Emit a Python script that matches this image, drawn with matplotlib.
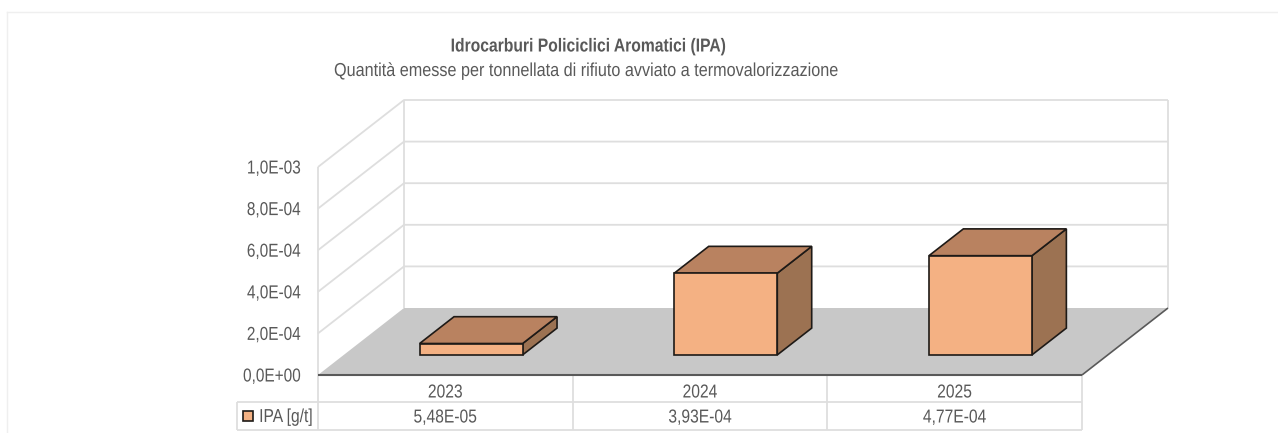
import matplotlib
matplotlib.use("Agg")
import matplotlib.pyplot as plt
from matplotlib.patches import Polygon
from matplotlib.lines import Line2D
from matplotlib.patheffects import AbstractPathEffect
from matplotlib.transforms import Affine2D

plt.rcParams["font.family"] = "Liberation Sans"

title = "Idrocarburi Policiclici Aromatici (IPA)"
subtitle = "Quantità emesse per tonnellata di rifiuto avviato a termovalorizzazione"
categories = ["2023", "2024", "2025"]
values = [5.48e-05, 3.93e-04, 4.77e-04]
value_labels = ["5,48E-05", "3,93E-04", "4,77E-04"]
y_ticks = [0, 2e-4, 4e-4, 6e-4, 8e-4, 1e-3]
y_tick_labels = ["0,0E+00", "2,0E-04", "4,0E-04", "6,0E-04", "8,0E-04", "1,0E-03"]
series_name = "IPA [g/t]"

W, H = 1278, 433
FS = 13.5
TXT = "#595959"; GRID = "#DEDEDE"; FLOOR = "#C8C8C8"
FRONT = "#F4B183"; TOP = "#B98260"; SIDE = "#9C7252"; EDGE = "#1E1A17"


class Condense(AbstractPathEffect):
    """Draw text narrower, about its centre or right end (the reference font is condensed)."""
    def __init__(self, sx, anchor="center"):
        super().__init__()
        self.sx, self.anchor = sx, anchor

    def draw_path(self, renderer, gc, tpath, affine, rgbFace=None):
        ext = tpath.get_extents()
        ref = ext.x1 if self.anchor == "right" else (ext.x0 + ext.x1) / 2
        t = Affine2D().translate(-ref, 0).scale(self.sx, 1).translate(ref, 0) + affine
        renderer.draw_path(gc, tpath, t, rgbFace)


fig = plt.figure(figsize=(W / 100, H / 100), dpi=100, facecolor="white")
# axes box = the front plane of the 3D chart
L, R, B, T = 318, 1082, 375, 167
ax = fig.add_axes([L / W, 1 - B / H, (R - L) / W, (B - T) / H])
ax.set_xlim(-0.5, 2.5)
ax.set_ylim(0, 1e-3)
ax.axis("off")

px_x = 3 / (R - L)          # category units per pixel
px_y = 1e-3 / (B - T)       # value units per pixel
DX, DY = 86 * px_x, 67 * px_y   # full depth of the chart


def proj(x, v, d):
    return (x + d * DX, v + d * DY)


def poly(pts, fc, ec="none", lw=0, z=2):
    ax.add_patch(Polygon(pts, closed=True, fc=fc, ec=ec, lw=lw, zorder=z,
                         clip_on=False, joinstyle="miter"))


def line(xs, ys, color=GRID, lw=1.3, z=1):
    ax.add_line(Line2D(xs, ys, color=color, lw=lw, zorder=z, clip_on=False,
                       solid_capstyle="butt"))


def yv(py):
    return (B - py) * px_y


def label(x, y, s, sx, ha="center", **kw):
    ax.text(x, y, s, ha=ha, va="center", fontsize=FS, color=TXT, clip_on=False,
            path_effects=[Condense(sx, "right" if ha == "right" else "center")], **kw)


# back wall and side wall gridlines
for v in y_ticks:
    a = proj(-0.5, v, 0); b = proj(-0.5, v, 1); c = proj(2.5, v, 1)
    if v > 0:
        line([a[0], b[0], c[0]], [a[1], b[1], c[1]])
line([proj(-0.5, 0, 0)[0]] * 2, [0, 1e-3])
line([proj(-0.5, 0, 1)[0]] * 2, [proj(0, 0, 1)[1], proj(0, 1e-3, 1)[1]])
line([proj(2.5, 0, 1)[0]] * 2, [proj(0, 0, 1)[1], proj(0, 1e-3, 1)[1]])

# floor
poly([proj(-0.5, 0, 0), proj(2.5, 0, 0), proj(2.5, 0, 1), proj(-0.5, 0, 1)], FLOOR, z=2)
line([-0.5, 2.5], [yv(374.5), yv(374.5)], color="#595959", lw=1.5, z=3)
a, b = proj(2.5, 0, 0), proj(2.5, 0, 1)
line([a[0], b[0]], [a[1], b[1]], color="#595959", lw=1.2, z=3)

# bars
bw = 103 * px_x
d0, d1 = 0.30, 0.70
for i, v in enumerate(values):
    xl, xr = i - bw / 2, i + bw / 2
    poly([proj(xr, 0, d0), proj(xr, 0, d1), proj(xr, v, d1), proj(xr, v, d0)], SIDE, EDGE, 1.2, 4)
    poly([proj(xl, v, d0), proj(xr, v, d0), proj(xr, v, d1), proj(xl, v, d1)], TOP, EDGE, 1.2, 4)
    poly([proj(xl, 0, d0), proj(xr, 0, d0), proj(xr, v, d0), proj(xl, v, d0)], FRONT, EDGE, 1.2, 5)

# y tick labels
for v, s in zip(y_ticks, y_tick_labels):
    label(-0.5 - 17 * px_x, v - 2 * px_y, s, 0.82, ha="right")

# data table
row1, row2 = 402, 429.5
tleft = -0.5 - 81 * px_x
line([tleft, 2.5], [yv(row1), yv(row1)])
line([tleft, 2.5], [yv(row2), yv(row2)])
line([tleft, tleft], [yv(row1), yv(row2)])
for x in (-0.5, 0.5, 1.5, 2.5):
    line([x, x], [yv(B), yv(row2)])
for i, (c, s) in enumerate(zip(categories, value_labels)):
    label(i, yv(393), c, 0.833)
    label(i, yv(418), s, 0.833)
x0 = -0.5 - 75 * px_x
poly([(x0, yv(411)), (x0 + 10 * px_x, yv(411)), (x0 + 10 * px_x, yv(421)), (x0, yv(421))], FRONT, EDGE, 1.2, 5)
label(-0.5 - 5 * px_x, yv(417.5), series_name, 0.833, ha="right")

# titles
fig.text(588 / W, 1 - 47 / H, title, ha="center", va="center", fontsize=FS, fontweight="bold",
         color=TXT, path_effects=[Condense(0.836)])
fig.text(585.5 / W, 1 - 71.5 / H, subtitle, ha="center", va="center", fontsize=FS,
         color=TXT, path_effects=[Condense(0.864)])

# outer chart frame
for xs, ys in (([7, 7], [433, 12]), ([7, 1278], [12, 12])):
    fig.add_artist(Line2D([x / W for x in xs], [1 - y / H for y in ys], color="#EFEFEF", lw=1))

fig.savefig("out.png", dpi=100)
